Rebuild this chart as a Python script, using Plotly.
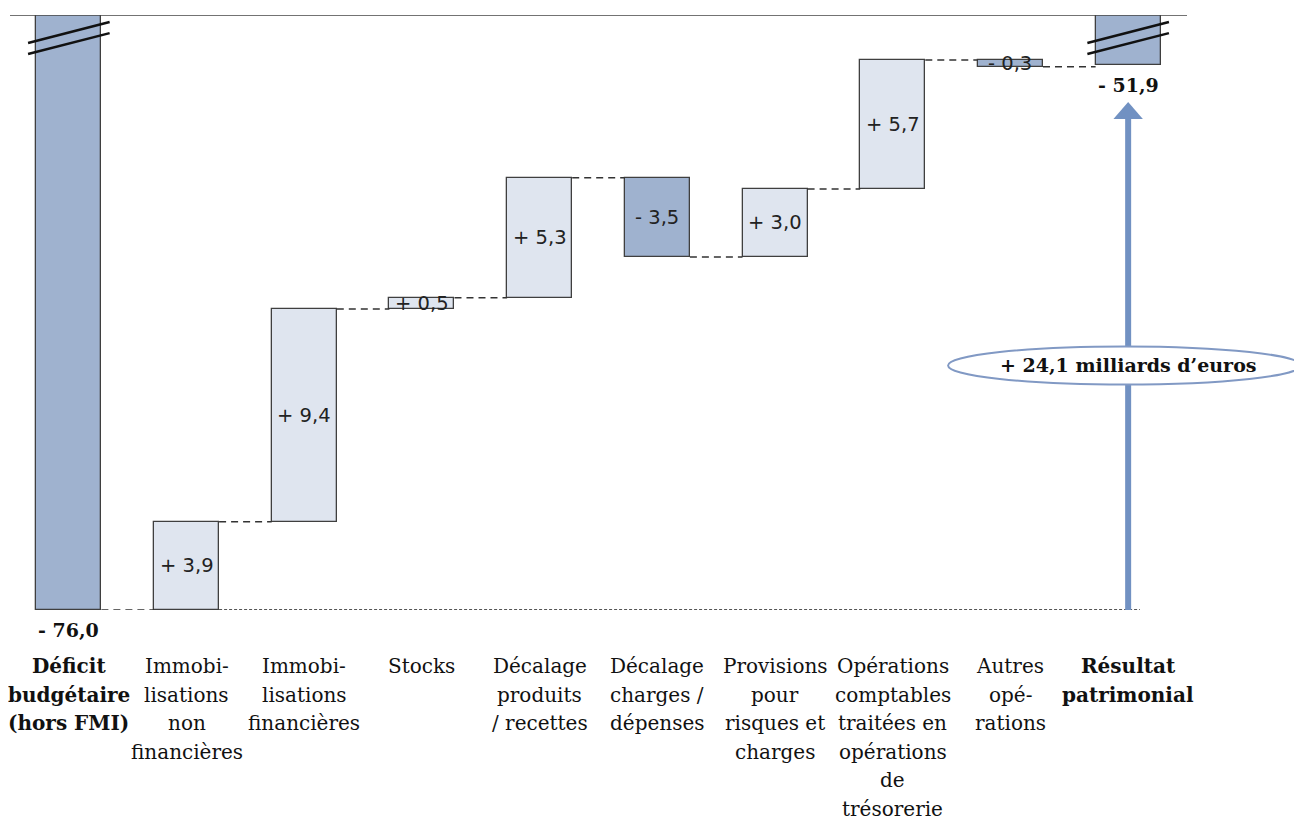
import plotly.graph_objects as go

# ---------------- data ----------------
categories = [
    "Déficit<br>budgétaire<br>(hors FMI)",
    "Immobi-<br>lisations<br>non<br>financières",
    "Immobi-<br>lisations<br>financières",
    "Stocks",
    "Décalage<br>produits<br>/ recettes",
    "Décalage<br>charges /<br>dépenses",
    "Provisions<br>pour<br>risques et<br>charges",
    "Opérations<br>comptables<br>traitées en<br>opérations<br>de<br>trésorerie",
    "Autres<br>opé-<br>rations",
    "Résultat<br>patrimonial",
]
start_value = -76.0
deltas = [3.9, 9.4, 0.5, 5.3, -3.5, 3.0, 5.7, -0.3]
end_value = -51.9
total_change_label = "+ 24,1 milliards d’euros"

# ---------------- styles ----------------
DARK = "#9fb2cf"
LIGHT = "#dfe5ef"
EDGE = "#3f3f3f"
ARROW = "#7191c2"
SERIF = "DejaVu Serif"
SANS = "DejaVu Sans"
BAR_W = 0.553
Y_TOP = -49.71
Y_BOT = -76.0


def fmt(v):
    s = f"{abs(v):.1f}".replace(".", ",")
    return ("+ " if v >= 0 else "- ") + s


# cumulative positions
bases, lengths, colors, levels = [], [], [], []
cum = start_value
bases.append(start_value)
lengths.append(Y_TOP + 5 - start_value)
colors.append(DARK)
levels.append(cum)
for d in deltas:
    lo = cum if d >= 0 else cum + d
    bases.append(lo)
    lengths.append(abs(d))
    colors.append(LIGHT if d >= 0 else DARK)
    cum += d
    levels.append(cum)
bases.append(end_value)
lengths.append(Y_TOP + 5 - end_value)
colors.append(DARK)

xs = list(range(len(categories)))

fig = go.Figure()
fig.add_trace(go.Bar(
    x=xs, y=lengths, base=bases, width=BAR_W,
    marker=dict(color=colors, line=dict(color=EDGE, width=1.3)),
    hoverinfo="skip", showlegend=False,
))

shapes = []
annotations = []

# top axis line
shapes.append(dict(type="line", xref="paper", yref="y", x0=0, x1=1, y0=Y_TOP, y1=Y_TOP,
                   line=dict(color="#444444", width=1.3)))

# connectors
for i in range(len(categories) - 1):
    lvl = levels[i]
    shapes.append(dict(type="line", xref="x", yref="y",
                       x0=i + BAR_W / 2, x1=i + 1 - BAR_W / 2, y0=lvl, y1=lvl,
                       line=dict(color="#333333", width=1.5, dash="7px,5px")))

# baseline dotted
shapes.append(dict(type="line", xref="x", yref="y",
                   x0=1 + BAR_W / 2, x1=len(categories) - 1 + 0.1, y0=start_value, y1=start_value,
                   line=dict(color="#555555", width=2, dash="3px,2px")))

# break marks on the first and last bars
for i in (0, len(categories) - 1):
    for dy_left, dy_right in ((1.24, 0.31), (1.72, 0.80)):
        shapes.append(dict(type="line", xref="x", yref="y",
                           x0=i - BAR_W / 2 - 0.07, x1=i + BAR_W / 2 + 0.07,
                           y0=Y_TOP - dy_left, y1=Y_TOP - dy_right,
                           line=dict(color="#111111", width=2.5)))

# arrow
ax = len(categories) - 1
head_base = end_value - 2.4
head_tip = end_value - 1.65
shapes.append(dict(type="line", xref="x", yref="y", x0=ax, x1=ax, y0=start_value, y1=head_base + 0.05,
                   line=dict(color=ARROW, width=6)))
shapes.append(dict(type="path", xref="x", yref="y",
                   path=f"M {ax - 0.125},{head_base} L {ax + 0.125},{head_base} L {ax},{head_tip} Z",
                   fillcolor=ARROW, line=dict(color=ARROW, width=0)))

# ellipse
shapes.append(dict(type="circle", xref="paper", yref="paper",
                   x0=0.797, x1=1.097, y0=0.379, y1=0.443,
                   fillcolor="white", line=dict(color="#8199c4", width=2), layer="above"))
annotations.append(dict(x=ax, xref="x", y=0.411, yref="paper", text=f"<b>{total_change_label}</b>",
                        showarrow=False, font=dict(family=SERIF, size=19, color="#111111"),
                        xanchor="center", yanchor="middle"))

# value labels inside bars
for k, d in enumerate(deltas):
    i = k + 1
    mid = bases[i] + lengths[i] / 2
    annotations.append(dict(x=i, y=mid, xref="x", yref="y", text=fmt(d), showarrow=False,
                            font=dict(family=SANS, size=19.5, color="#222222"),
                            xanchor="center", yanchor="middle"))

# total labels
annotations.append(dict(x=0, y=start_value, xref="x", yref="y", text=f"<b>{fmt(start_value)}</b>",
                        showarrow=False, yshift=-20, font=dict(family=SERIF, size=19, color="#111111"),
                        xanchor="center", yanchor="middle"))
annotations.append(dict(x=len(categories) - 1, y=end_value, xref="x", yref="y",
                        text=f"<b>{fmt(end_value)}</b>", showarrow=False, yshift=-20,
                        font=dict(family=SERIF, size=19, color="#111111"),
                        xanchor="center", yanchor="middle"))

# category labels, line by line
for i, cat in enumerate(categories):
    bold = i in (0, len(categories) - 1)
    for j, line in enumerate(cat.split("<br>")):
        txt = f"<b>{line}</b>" if bold else line
        annotations.append(dict(x=i, xref="x", y=0, yref="paper", text=txt, showarrow=False,
                                yshift=-(56 + 28.6 * j), xanchor="center", yanchor="middle",
                                font=dict(family=SERIF, size=20, color="#111111")))

fig.update_layout(
    width=1294, height=813,
    margin=dict(l=2, r=115, t=7, b=211),
    paper_bgcolor="white", plot_bgcolor="white",
    xaxis=dict(range=[-0.5, len(categories) - 0.5], showticklabels=False, showgrid=False,
               zeroline=False, showline=False, ticks=""),
    yaxis=dict(range=[Y_BOT, Y_TOP], showticklabels=False, showgrid=False, zeroline=False,
               showline=False, ticks=""),
    shapes=shapes, annotations=annotations, bargap=0,
)

fig.write_html("out.html")
